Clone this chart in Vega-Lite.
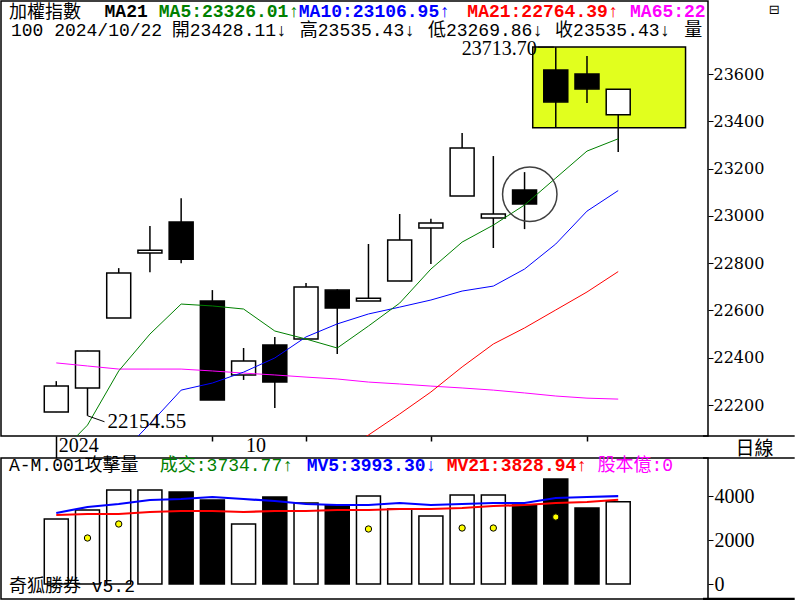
{
"$schema": "https://vega.github.io/schema/vega-lite/v6.json",
"padding": 0,
"background": "white",
"bounds": "flush",
"spacing": 22,
"config": {"view": {"stroke": "black", "strokeWidth": 1.5}, "axis": {"grid": false, "domain": false, "tickColor": "black", "labelColor": "black"}},
"datasets": {"k": [
{"i":1,"d":"2024/09/23","o":22170,"h":22301,"l":22170,"c":22280,"v":2955,"ma5":21980,"ma65":22378,"mv5":3227,"mv21":3136},
{"i":2,"d":"2024/09/24","o":22272,"h":22430,"l":22154.55,"c":22428,"v":3364,"dot":2091,"ma5":22115,"ma65":22365,"mv5":3500,"mv21":3182},
{"i":3,"d":"2024/09/25","o":22568,"h":22779,"l":22568,"c":22758,"v":4273,"dot":2727,"ma5":22344,"ma10":21984,"ma65":22352,"mv5":3636,"mv21":3182},
{"i":4,"d":"2024/09/26","o":22843,"h":22957,"l":22762,"c":22855,"v":4273,"ma5":22500,"ma10":22120,"ma65":22352,"mv5":3818,"mv21":3273},
{"i":5,"d":"2024/09/27","o":22974,"h":23075,"l":22800,"c":22817,"v":4182,"ma5":22627,"ma10":22263,"ma65":22352,"mv5":3864,"mv21":3318},
{"i":6,"d":"2024/09/30","o":22640,"h":22686,"l":22221,"c":22221,"v":3818,"ma5":22619,"ma10":22293,"ma65":22344,"mv5":3955,"mv21":3318},
{"i":7,"d":"2024/10/01","o":22327,"h":22441,"l":22306,"c":22386,"v":2727,"ma5":22606,"ma10":22339,"ma65":22335,"mv5":3864,"mv21":3273},
{"i":8,"d":"2024/10/04","o":22454,"h":22488,"l":22187,"c":22297,"v":3955,"ma5":22513,"ma10":22399,"ma65":22327,"mv5":3773,"mv21":3318},
{"i":9,"d":"2024/10/07","o":22479,"h":22716,"l":22479,"c":22699,"v":3682,"ma5":22479,"ma10":22488,"ma65":22318,"mv5":3636,"mv21":3318},
{"i":10,"d":"2024/10/08","o":22686,"h":22690,"l":22416,"c":22610,"v":3591,"ma5":22441,"ma10":22543,"ma21":22005,"ma65":22310,"mv5":3591,"mv21":3364},
{"i":11,"d":"2024/10/09","o":22640,"h":22881,"l":22640,"c":22652,"v":4000,"dot":2500,"ma5":22534,"ma10":22585,"ma21":22073,"ma65":22297,"mv5":3591,"mv21":3364},
{"i":12,"d":"2024/10/11","o":22724,"h":23008,"l":22724,"c":22898,"v":3409,"ma5":22631,"ma10":22614,"ma21":22162,"ma65":22289,"mv5":3682,"mv21":3409},
{"i":13,"d":"2024/10/14","o":22949,"h":22988,"l":22796,"c":22970,"v":3091,"ma5":22775,"ma10":22644,"ma21":22255,"ma65":22280,"mv5":3591,"mv21":3409},
{"i":14,"d":"2024/10/15","o":23084,"h":23350,"l":23084,"c":23287,"v":4045,"dot":2545,"ma5":22889,"ma10":22682,"ma21":22361,"ma65":22272,"mv5":3636,"mv21":3455},
{"i":15,"d":"2024/10/16","o":22991,"h":23253,"l":22864,"c":23008,"v":4045,"dot":2545,"ma5":22961,"ma10":22703,"ma21":22458,"ma65":22263,"mv5":3682,"mv21":3545},
{"i":16,"d":"2024/10/17","o":23109,"h":23185,"l":22944,"c":23050,"v":3591,"ma5":23046,"ma10":22775,"ma21":22526,"ma65":22251,"mv5":3682,"mv21":3591},
{"i":17,"d":"2024/10/18","o":23617,"h":23713.7,"l":23372,"c":23482,"v":4773,"dot":3045,"ma5":23160,"ma10":22881,"ma21":22602,"ma65":22238,"mv5":3909,"mv21":3682},
{"i":18,"d":"2024/10/21","o":23600,"h":23676,"l":23477,"c":23537,"v":3455,"ma5":23274,"ma10":23020,"ma21":22678,"ma65":22229,"mv5":3955,"mv21":3727},
{"i":19,"d":"2024/10/22","o":23428.11,"h":23535.43,"l":23269.86,"c":23535.43,"v":3734.77,"ma5":23326.01,"ma10":23106.95,"ma21":22764.39,"ma65":22225,"mv5":3993.3,"mv21":3828.94}
]},
"vconcat": [
{
 "width": 707, "height": 435,
 "data": {"name": "k"},
 "encoding": {"x": {"field": "i", "type": "quantitative", "scale": {"domain": [-0.6105, 21.716], "nice": false, "zero": false},
   "axis": {"title": null, "values": [1, 6, 7, 9, 13, 18], "labelExpr": "datum.value == 1 ? '2024' : datum.value == 7 ? '10' : ''",
     "tickSize": 22,
     "tickDash": {"condition": {"test": "datum.value == 1", "value": []}, "value": [5, 40]},
     "tickOpacity": {"condition": {"test": "datum.value == 7", "value": 0}, "value": 1},
     "labelPadding": -23,
     "labelAlign": "left", "labelBaseline": "top", "labelOffset": 2, "labelFont": "Liberation Serif", "labelFontSize": 20,
     "labelOverlap": false, "labelFlush": false, "domain": false, "grid": false, "tickWidth": 1.5}}},
 "layer": [
  {"transform": [{"filter": "datum.i == 19"}], "mark": {"type": "rect", "fill": "#e1ff1e", "stroke": "black", "strokeWidth": 1.5},
   "encoding": {"x": {"datum": 16.262}, "x2": {"datum": 21.157}, "y": {"datum": 23714.2}, "y2": {"datum": 23372.9}}},
  {"mark": {"type": "rule", "color": "black", "strokeWidth": 1.5},
   "encoding": {"y": {"field": "l", "type": "quantitative", "scale": {"domain": [22068.9, 23908.8], "nice": false, "zero": false},
     "axis": {"title": null, "orient": "right", "values": [22200, 22400, 22600, 22800, 23000, 23200, 23400, 23600],
       "format": "d", "tickSize": 5, "labelPadding": 0, "labelFont": "DejaVu Serif", "labelFontSize": 16, "labelAlign": "left", "labelBaseline": "middle",
       "labelOverlap": false, "labelFlush": false, "domain": false, "tickWidth": 1}},
     "y2": {"field": "h"}}},
  {"mark": {"type": "bar", "width": 24, "stroke": "black", "strokeWidth": 1.5},
   "encoding": {"y": {"field": "o", "type": "quantitative", "scale": {"domain": [22068.9, 23908.8], "nice": false, "zero": false}},
     "y2": {"field": "c"}, "fill": {"condition": {"test": "datum.c >= datum.o", "value": "white"}, "value": "black"}}},
  {"mark": {"type": "line", "color": "#ff00ff", "strokeWidth": 1, "clip": true},
   "encoding": {"y": {"field": "ma65", "type": "quantitative", "scale": {"domain": [22068.9, 23908.8], "nice": false, "zero": false}}}},
  {"mark": {"type": "line", "color": "#ff0000", "strokeWidth": 1, "clip": true},
   "encoding": {"y": {"field": "ma21", "type": "quantitative", "scale": {"domain": [22068.9, 23908.8], "nice": false, "zero": false}}}},
  {"mark": {"type": "line", "color": "#0000ff", "strokeWidth": 1, "clip": true},
   "encoding": {"y": {"field": "ma10", "type": "quantitative", "scale": {"domain": [22068.9, 23908.8], "nice": false, "zero": false}}}},
  {"mark": {"type": "line", "color": "#008000", "strokeWidth": 1, "clip": true},
   "encoding": {"y": {"field": "ma5", "type": "quantitative", "scale": {"domain": [22068.9, 23908.8], "nice": false, "zero": false}}}},
  {"transform": [{"filter": "datum.i == 19"}], "mark": {"type": "point", "shape": "circle", "filled": false, "size": 2961, "color": "#404040", "strokeWidth": 1.5, "opacity": 1},
   "encoding": {"x": {"datum": 16.167}, "y": {"datum": 23091.2}}},
  {"transform": [{"joinaggregate": [{"op": "max", "field": "h", "as": "mh"}]}, {"filter": "datum.h == datum.mh"}],
   "layer": [
    {"mark": {"type": "rule", "color": "black", "strokeWidth": 1, "xOffset": -18, "x2Offset": -2},
     "encoding": {"x2": {"field": "i"}, "y": {"field": "h", "type": "quantitative"}}},
    {"mark": {"type": "text", "align": "right", "baseline": "middle", "dx": -19, "dy": 2, "font": "Liberation Serif", "fontSize": 20, "color": "black"},
     "encoding": {"y": {"field": "h", "type": "quantitative"}, "text": {"field": "h", "type": "quantitative", "format": ".2f"}}}
   ]},
  {"transform": [{"joinaggregate": [{"op": "min", "field": "l", "as": "ml"}]}, {"filter": "datum.l == datum.ml"}],
   "layer": [
    {"mark": {"type": "rule", "color": "black", "strokeWidth": 1, "x2Offset": 17, "y2Offset": 6},
     "encoding": {"x2": {"field": "i"}, "y": {"field": "l", "type": "quantitative"}, "y2": {"field": "l"}}},
    {"mark": {"type": "text", "align": "left", "baseline": "middle", "dx": 20, "dy": 6, "font": "Liberation Serif", "fontSize": 21, "color": "black"},
     "encoding": {"y": {"field": "l", "type": "quantitative"}, "text": {"field": "l", "type": "quantitative", "format": ".2f"}}}
   ]},
  {"transform": [{"filter": "datum.i == 19"}], "mark": {"type": "text", "text": "加權指數", "align": "left", "baseline": "middle", "font": "Noto Sans CJK TC", "fontSize": 18, "color": "black"},
   "encoding": {"x": {"datum": -0.5158}, "y": {"datum": 23858.0}}},
  {"transform": [{"filter": "datum.i == 19"}], "mark": {"type": "text", "text": "MA21", "align": "left", "baseline": "middle", "font": "Liberation Mono", "fontSize": 18, "fontWeight": "bold", "color": "black"},
   "encoding": {"x": {"datum": 2.547}, "y": {"datum": 23862.3}}},
  {"transform": [{"filter": "datum.i == 19"}], "mark": {"type": "text", "text": "MA5:23326.01↑", "align": "left", "baseline": "middle", "font": "Liberation Mono", "fontSize": 18, "fontWeight": "bold", "color": "#008000"},
   "encoding": {"x": {"datum": 4.284}, "y": {"datum": 23862.3}}},
  {"transform": [{"filter": "datum.i == 19"}], "mark": {"type": "text", "text": "MA10:23106.95↑", "align": "left", "baseline": "middle", "font": "Liberation Mono", "fontSize": 18, "fontWeight": "bold", "color": "#0000ff"},
   "encoding": {"x": {"datum": 8.768}, "y": {"datum": 23862.3}}},
  {"transform": [{"filter": "datum.i == 19"}], "mark": {"type": "text", "text": "MA21:22764.39↑", "align": "left", "baseline": "middle", "font": "Liberation Mono", "fontSize": 18, "fontWeight": "bold", "color": "#ff0000"},
   "encoding": {"x": {"datum": 14.168}, "y": {"datum": 23862.3}}},
  {"transform": [{"filter": "datum.i == 19"}], "mark": {"type": "text", "text": "MA65:22", "align": "left", "baseline": "middle", "font": "Liberation Mono", "fontSize": 18, "fontWeight": "bold", "color": "#ff00ff", "clip": true},
   "encoding": {"x": {"datum": 19.379}, "y": {"datum": 23862.3}}},
  {"transform": [{"filter": "datum.i == 19"}], "mark": {"type": "text", "text": "100 2024/10/22", "align": "left", "baseline": "middle", "font": "Liberation Mono", "fontSize": 18, "color": "black"},
   "encoding": {"x": {"datum": -0.4526}, "y": {"datum": 23781.9}}},
  {"transform": [{"filter": "datum.i == 19"}], "mark": {"type": "text", "text": "開23428.11↓", "align": "left", "baseline": "middle", "font": "Liberation Mono, Noto Sans CJK TC", "fontSize": 18, "color": "black"},
   "encoding": {"x": {"datum": 4.695}, "y": {"datum": 23781.9}}},
  {"transform": [{"filter": "datum.i == 19"}], "mark": {"type": "text", "text": "高23535.43↓", "align": "left", "baseline": "middle", "font": "Liberation Mono, Noto Sans CJK TC", "fontSize": 18, "color": "black"},
   "encoding": {"x": {"datum": 8.8}, "y": {"datum": 23781.9}}},
  {"transform": [{"filter": "datum.i == 19"}], "mark": {"type": "text", "text": "低23269.86↓", "align": "left", "baseline": "middle", "font": "Liberation Mono, Noto Sans CJK TC", "fontSize": 18, "color": "black"},
   "encoding": {"x": {"datum": 12.905}, "y": {"datum": 23781.9}}},
  {"transform": [{"filter": "datum.i == 19"}], "mark": {"type": "text", "text": "收23535.43↓", "align": "left", "baseline": "middle", "font": "Liberation Mono, Noto Sans CJK TC", "fontSize": 18, "color": "black"},
   "encoding": {"x": {"datum": 16.979}, "y": {"datum": 23781.9}}},
  {"transform": [{"filter": "datum.i == 19"}], "mark": {"type": "text", "text": "量", "align": "left", "baseline": "middle", "font": "Noto Sans CJK TC", "fontSize": 18, "color": "black"},
   "encoding": {"x": {"datum": 21.116}, "y": {"datum": 23781.9}}},
  {"transform": [{"filter": "datum.i == 19"}], "mark": {"type": "text", "text": "⊟", "align": "center", "baseline": "middle", "font": "DejaVu Sans", "fontSize": 13, "color": "black"},
   "encoding": {"x": {"datum": 24.0}, "y": {"datum": 23870}}},
  {"transform": [{"filter": "datum.i == 19"}], "mark": {"type": "rule", "color": "black", "strokeWidth": 1.5},
   "encoding": {"x": {"datum": 21.716}, "x2": {"datum": 24.653}, "y": {"datum": 22068.9}}}
 ]
},
{
 "width": 707, "height": 141,
 "data": {"name": "k"},
 "encoding": {"x": {"field": "i", "type": "quantitative", "scale": {"domain": [-0.6105, 21.716], "nice": false, "zero": false}, "axis": null}},
 "layer": [
  {"mark": {"type": "bar", "width": 24, "stroke": "black", "strokeWidth": 1.5},
   "encoding": {"y": {"field": "v", "type": "quantitative", "scale": {"domain": [-681.8, 5727.3], "nice": false, "zero": false},
     "axis": {"title": "日線", "orient": "right", "values": [0, 1000, 2000, 3000, 4000], "format": "d",
       "labelExpr": "datum.value % 2000 == 0 ? datum.label : ''",
       "tickSize": 5,
       "tickDash": {"condition": {"test": "datum.value % 2000 == 0", "value": []}, "value": [3, 20]},
       "labelPadding": 1, "labelFont": "Liberation Serif", "labelFontSize": 20, "labelAlign": "left", "labelBaseline": "middle",
       "labelOverlap": false, "labelFlush": false, "domain": false, "tickWidth": 1,
       "titleAngle": 0, "titleX": 46, "titleY": -10, "titleAlign": "center", "titleBaseline": "middle",
       "titleFont": "Noto Sans CJK TC", "titleFontSize": 19, "titleFontWeight": "normal", "titleColor": "black"}},
     "y2": {"datum": 0}, "fill": {"condition": {"test": "datum.c >= datum.o", "value": "white"}, "value": "black"}}},
  {"mark": {"type": "line", "color": "#ff0000", "strokeWidth": 2.2},
   "encoding": {"y": {"field": "mv21", "type": "quantitative"}}},
  {"mark": {"type": "line", "color": "#0000ff", "strokeWidth": 2.2},
   "encoding": {"y": {"field": "mv5", "type": "quantitative"}}},
  {"mark": {"type": "point", "shape": "circle", "filled": true, "fill": "#ffff00", "stroke": "black", "strokeWidth": 1, "size": 40, "opacity": 1},
   "encoding": {"y": {"field": "dot", "type": "quantitative"}}},
  {"transform": [{"filter": "datum.i == 19"}], "mark": {"type": "text", "text": "A-M.001攻擊量", "align": "left", "baseline": "middle", "font": "Liberation Mono, Noto Sans CJK TC", "fontSize": 18, "color": "black"},
   "encoding": {"x": {"datum": -0.5158}, "y": {"datum": 5363.6}}},
  {"transform": [{"filter": "datum.i == 19"}], "mark": {"type": "text", "text": "成交:3734.77↑", "align": "left", "baseline": "middle", "font": "Liberation Mono, Noto Sans CJK TC", "fontSize": 18, "color": "#008000"},
   "encoding": {"x": {"datum": 4.316}, "y": {"datum": 5363.6}}},
  {"transform": [{"filter": "datum.i == 19"}], "mark": {"type": "text", "text": "MV5:3993.30↓", "align": "left", "baseline": "middle", "font": "Liberation Mono", "fontSize": 18, "fontWeight": "bold", "color": "#0000ff"},
   "encoding": {"x": {"datum": 9.021}, "y": {"datum": 5363.6}}},
  {"transform": [{"filter": "datum.i == 19"}], "mark": {"type": "text", "text": "MV21:3828.94↑", "align": "left", "baseline": "middle", "font": "Liberation Mono", "fontSize": 18, "fontWeight": "bold", "color": "#ff0000"},
   "encoding": {"x": {"datum": 13.505}, "y": {"datum": 5363.6}}},
  {"transform": [{"filter": "datum.i == 19"}], "mark": {"type": "text", "text": "股本億:0", "align": "left", "baseline": "middle", "font": "Liberation Mono, Noto Sans CJK TC", "fontSize": 18, "color": "#ff00ff"},
   "encoding": {"x": {"datum": 18.337}, "y": {"datum": 5363.6}}},
  {"transform": [{"filter": "datum.i == 19"}], "mark": {"type": "text", "text": "奇狐勝券 v5.2", "align": "left", "baseline": "middle", "font": "Liberation Mono, Noto Sans CJK TC", "fontSize": 18, "color": "black"},
   "encoding": {"x": {"datum": -0.5158}, "y": {"datum": -136}}},
  {"transform": [{"filter": "datum.i == 19"}], "mark": {"type": "rule", "color": "black", "strokeWidth": 1.5},
   "encoding": {"x": {"datum": 21.716}, "x2": {"datum": 24.653}, "y": {"datum": 5727.3}}},
  {"transform": [{"filter": "datum.i == 19"}], "mark": {"type": "rule", "color": "black", "strokeWidth": 2.5},
   "encoding": {"x": {"datum": 21.716}, "x2": {"datum": 24.653}, "y": {"datum": -681.8}}}
 ]
}
]
}
